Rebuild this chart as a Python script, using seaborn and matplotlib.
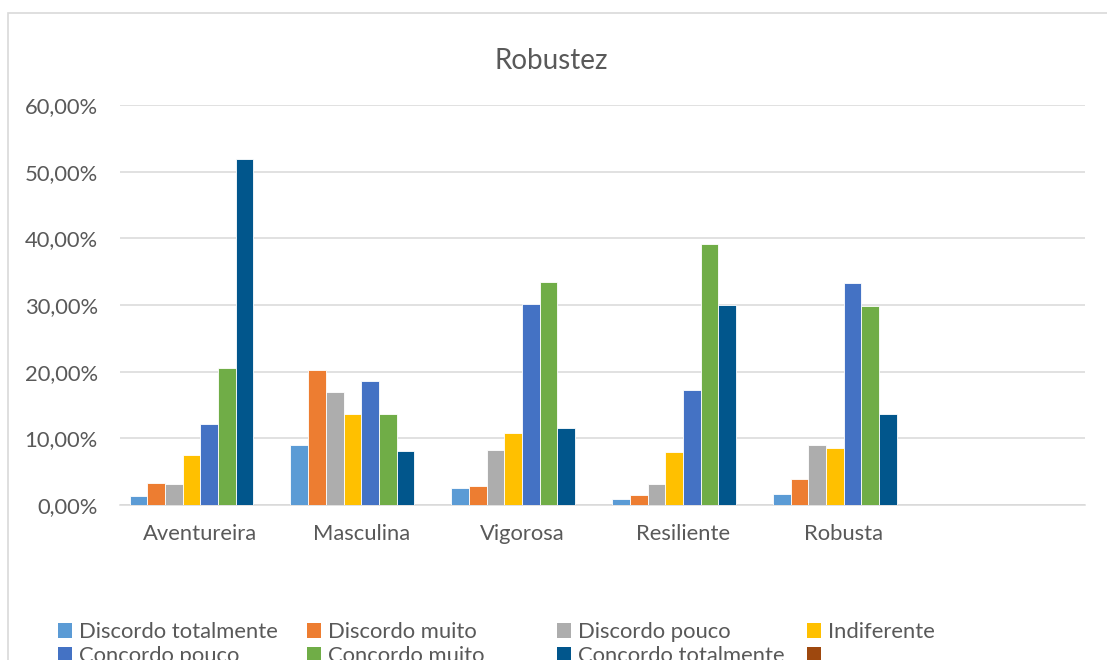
import matplotlib
matplotlib.use("Agg")
import matplotlib.pyplot as plt
from matplotlib.patches import Patch, Rectangle
from matplotlib.ticker import FuncFormatter, MultipleLocator
import seaborn as sns
import pandas as pd

# Attribute categories (last slot is an unlabeled empty category)
categories = ["Aventureira", "Masculina", "Vigorosa", "Resiliente", "Robusta"]
empty_category = [""]

# Answer scale (last series has no data)
series = ["Discordo totalmente", "Discordo muito", "Discordo pouco", "Indiferente",
          "Concordo pouco", "Concordo muito", "Concordo totalmente"]
empty_series = [" "]

# Percentages per answer, one list per category
aventureira = [1.3, 3.3, 3.1, 7.5, 12.2, 20.6, 51.9]
masculina = [9.0, 20.2, 16.9, 13.6, 18.6, 13.6, 8.1]
vigorosa = [2.6, 2.8, 8.3, 10.8, 30.2, 33.5, 11.6]
resiliente = [0.9, 1.5, 3.1, 7.9, 17.3, 39.2, 30.0]
robusta = [1.7, 3.9, 9.0, 8.5, 33.3, 29.8, 13.6]

colors = ["#5B9BD5", "#ED7D31", "#ADADAD", "#FFC000",
          "#4472C4", "#70AD47", "#01568C", "#9E480E"]

rows = []
for cat, vals in zip(categories, [aventureira, masculina, vigorosa, resiliente, robusta]):
    for s, v in zip(series, vals):
        rows.append({"categoria": cat, "resposta": s, "valor": v})
df = pd.DataFrame(rows)

sns.set_theme(style="white")
plt.rcParams["font.family"] = ["Lato", "DejaVu Sans"]
text_color = "#595959"
grid_color = "#D9D9D9"

fig = plt.figure(figsize=(11.07, 6.6), dpi=100)
ax = fig.add_axes([120 / 1107, 1 - 505 / 660, (1085 - 120) / 1107, 400 / 660])

levels = series + empty_series
palette = dict(zip(levels, colors))
sns.barplot(data=df, x="categoria", y="valor", hue="resposta",
            order=categories + empty_category, hue_order=levels,
            palette=palette, width=0.88, gap=0, errorbar=None,
            edgecolor="white", linewidth=0.6, saturation=1,
            legend=False, ax=ax, zorder=3)

ax.set_ylim(0, 60)
ax.set_xlim(-0.5, len(categories) + len(empty_category) - 0.5)
ax.yaxis.set_major_locator(MultipleLocator(10))
ax.yaxis.set_major_formatter(FuncFormatter(lambda v, _: f"{v:.2f}%".replace(".", ",")))
ax.grid(axis="y", color=grid_color, linewidth=1.1, zorder=0)
ax.set_axisbelow(True)
for side in ["top", "right", "left"]:
    ax.spines[side].set_visible(False)
ax.spines["bottom"].set_color(grid_color)
ax.spines["bottom"].set_linewidth(1.1)
ax.tick_params(axis="both", length=0, labelsize=15.8, colors=text_color)
ax.tick_params(axis="y", pad=16)
ax.tick_params(axis="x", pad=14)
ax.set_xlabel("")
ax.set_ylabel("")

fig.text(551 / 1107, 1 - 61 / 660, "Robustez", ha="center", va="center",
         fontsize=20, color=text_color)

# Chart area frame
fig.patches.append(Rectangle((8 / 1107, -0.1), 1.2, 1 - 13 / 660 + 0.1,
                             transform=fig.transFigure, fill=False,
                             edgecolor=grid_color, linewidth=1.2))

# Legend in four columns of two rows
col_x = [58, 307, 557, 807]
for c in range(4):
    idx = [c, c + 4]
    handles = [Patch(facecolor=colors[i], edgecolor="none") for i in idx]
    labels = [levels[i] for i in idx]
    fig.legend(handles, labels, loc="upper left",
               bbox_to_anchor=(col_x[c] / 1107, 1 - 622 / 660),
               frameon=False, fontsize=15.8, labelcolor=text_color,
               handlelength=0.65, handleheight=0.65, handletextpad=0.3,
               labelspacing=0.2, borderpad=0, borderaxespad=0)

fig.savefig("out.png", dpi=100)
